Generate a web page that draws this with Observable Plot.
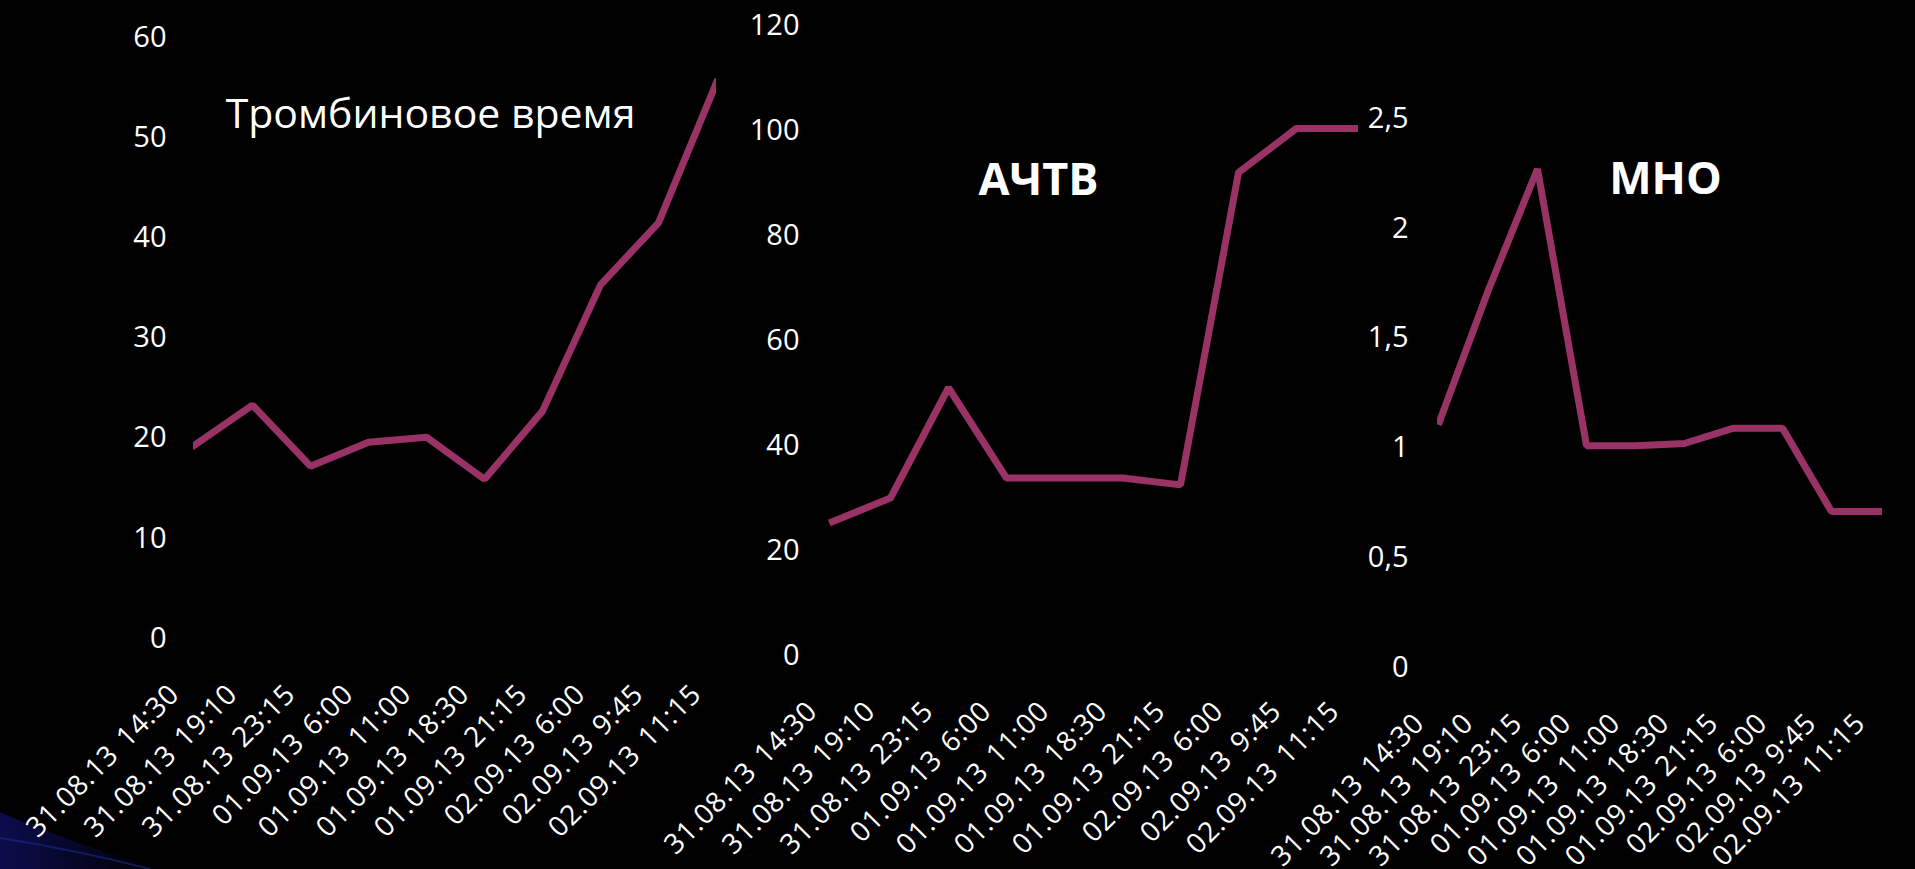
<!DOCTYPE html>
<html>
<head>
<meta charset="utf-8">
<script src="https://cdn.jsdelivr.net/npm/d3@7"></script>
<script src="https://cdn.jsdelivr.net/npm/@observablehq/plot@0.6"></script>
<style>
  html, body { margin: 0; padding: 0; background: #000; }
  #slide { position: relative; width: 1915px; height: 869px; overflow: hidden; background: #000; font-family: "Open Sans", sans-serif; }
  #slide .panel { position: absolute; top: 0; }
  #slide .panel g[aria-label="x-axis tick label"] text { letter-spacing: 0.7px; word-spacing: 3px; }
  #swoosh { position: absolute; left: 0; top: 0; }
</style>
</head>
<body>
<div id="slide">
  <svg id="swoosh" width="1915" height="869">
    <defs>
      <linearGradient id="sw" x1="0" y1="0" x2="1" y2="0">
        <stop offset="0" stop-color="#0d0d55" stop-opacity="0.9"/>
        <stop offset="1" stop-color="#0d0d55" stop-opacity="0"/>
      </linearGradient>
    </defs>
    <path d="M0,812 C40,830 95,850 160,869 L0,869 Z" fill="url(#sw)"/>
    <path d="M0,838 C50,846 100,856 150,869" fill="none" stroke="#1a2a8a" stroke-opacity="0.6" stroke-width="2"/>
  </svg>
</div>
<script>
// Sampling times (shared by all three panels)
const times = [
  "31.08.13 14:30", "31.08.13 19:10", "31.08.13 23:15", "01.09.13 6:00", "01.09.13 11:00",
  "01.09.13 18:30", "01.09.13 21:15", "02.09.13 6:00", "02.09.13 9:45", "02.09.13 11:15"
];

// Thrombin time, s
const thrombinTime = [19.3, 23.3, 17.2, 19.6, 20.1, 15.9, 22.7, 35.3, 41.5, 55.5];
// APTT, s
const aptt = [25.5, 30.0, 51.0, 33.8, 33.8, 33.8, 32.5, 92.0, 100.4, 100.4];
// INR
const inr = [1.12, 1.72, 2.27, 1.01, 1.01, 1.02, 1.09, 1.09, 0.71, 0.71];

const ticksThrombin = [0, 10, 20, 30, 40, 50, 60];
const ticksAptt = [0, 20, 40, 60, 80, 100, 120];
const ticksInr = [0, 0.5, 1, 1.5, 2, 2.5];

const titles = ["Тромбиновое время", "АЧТВ", "МНО"];

const lineColor = "#993366";
const commaFormat = d => String(d).replace(".", ",");

// Layout of the three side-by-side panels
const panels = [
  {
    values: thrombinTime, ticks: ticksThrombin, title: titles[0], bold: false, titleSize: 41,
    left: 0, width: 760, marginLeft: 193, marginRight: 44, marginTop: 37, marginBottom: 231,
    titleCx: 430, titleBase: 127, yPad: 27
  },
  {
    values: aptt, ticks: ticksAptt, title: titles[1], bold: true, titleSize: 45,
    left: 620, width: 780, marginLeft: 208, marginRight: 42, marginTop: 25, marginBottom: 214,
    titleCx: 1038, titleBase: 194, yPad: 29
  },
  {
    values: inr, ticks: ticksInr, title: titles[2], bold: true, titleSize: 45,
    left: 1240, width: 675, marginLeft: 197, marginRight: 33, marginTop: 118, marginBottom: 202,
    titleCx: 1665, titleBase: 193, yPad: 29
  }
];

const slide = document.getElementById("slide");

for (const p of panels) {
  const rows = times.map((t, i) => ({t, v: p.values[i]}));
  const frameLeft = p.left + p.marginLeft;
  const chart = Plot.plot({
    width: p.width,
    height: 869,
    marginLeft: p.marginLeft,
    marginRight: p.marginRight,
    marginTop: p.marginTop,
    marginBottom: p.marginBottom,
    style: {background: "transparent", color: "white", fontFamily: "'Open Sans', sans-serif", overflow: "visible"},
    x: {type: "point", domain: times, padding: 0},
    y: {domain: [0, p.ticks[p.ticks.length - 1]]},
    marks: [
      Plot.axisY(p.ticks, {
        tickSize: 0, tickPadding: p.yPad, fontSize: 29, fill: "white",
        tickFormat: commaFormat, label: null
      }),
      Plot.axisX({
        tickRotate: -45, tickSize: 0, tickPadding: 51, dx: -20,
        textAnchor: "end", lineAnchor: "middle", fontSize: 28, fill: "white", label: null
      }),
      Plot.line(rows, {
        x: "t", y: "v", stroke: lineColor, strokeWidth: 7,
        strokeLinecap: "square", strokeLinejoin: "miter", clip: true
      }),
      Plot.text([p.title], {
        frameAnchor: "top-left",
        dx: p.titleCx - frameLeft,
        dy: p.titleBase - 0.32 * p.titleSize - p.marginTop,
        textAnchor: "middle", lineAnchor: "middle",
        fontSize: p.titleSize, fontWeight: p.bold ? "bold" : "normal", fill: "white"
      })
    ]
  });
  chart.classList.add("panel");
  chart.style.left = p.left + "px";
  slide.appendChild(chart);
}
</script>
</body>
</html>
